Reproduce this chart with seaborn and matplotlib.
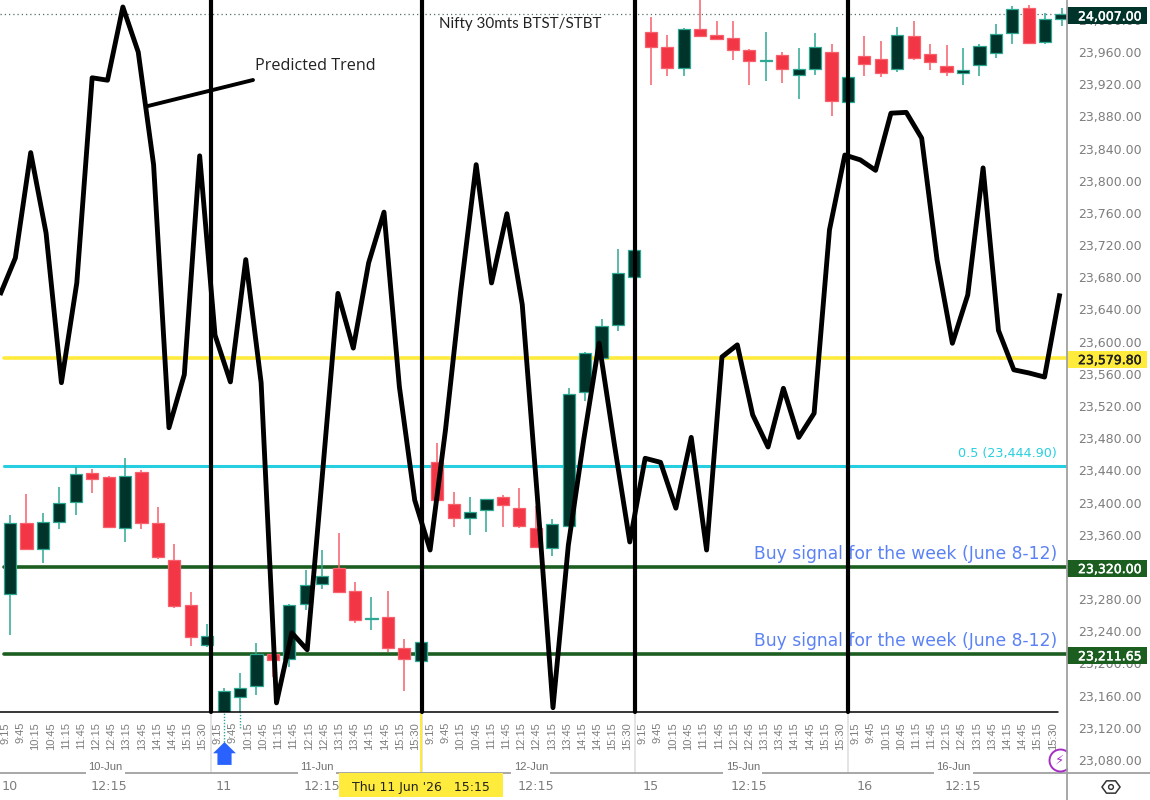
import matplotlib
matplotlib.use("Agg")
import matplotlib.pyplot as plt
import matplotlib.patheffects as pe
import matplotlib.transforms as mtrans
from matplotlib.patches import Rectangle
from matplotlib.path import Path
from matplotlib.lines import Line2D
import numpy as np
import pandas as pd
import seaborn as sns

# 30-minute Nifty candles, 10-Jun to 16-Jun
opens = [23286, 23375, 23342, 23376, 23401, 23437, 23432, 23368, 23438, 23375, 23329, 23273, 23223,
         23137, 23158, 23172, 23212, 23206, 23274, 23299, 23319, 23290, 23255, 23258, 23219, 23203,
         23450, 23398, 23381, 23391, 23407, 23393, 23368, 23344, 23371, 23537, 23580, 23621, 23680,
         23985, 23966, 23940, 23989, 23981, 23977, 23963, 23949, 23956, 23931, 23939, 23960, 23898,
         23955, 23951, 23939, 23980, 23958, 23943, 23934, 23944, 23959, 23984, 24015, 23972, 24001]
highs = [23385, 23411, 23387, 23419, 23444, 23442, 23433, 23455, 23440, 23394, 23348, 23289, 23249,
         23169, 23188, 23225, 23214, 23274, 23316, 23341, 23362, 23301, 23283, 23290, 23230, 23228,
         23474, 23413, 23407, 23405, 23409, 23418, 23396, 23380, 23542, 23587, 23628, 23715, 23715,
         24004, 23981, 23990, 24031, 23999, 23999, 23964, 23985, 23960, 23965, 23984, 23970, 23930,
         23980, 23974, 23991, 23999, 23970, 23969, 23965, 23970, 23995, 24017, 24018, 24009, 24015]
lows = [23235, 23341, 23325, 23367, 23385, 23412, 23369, 23351, 23367, 23330, 23269, 23222, 23220,
        23102, 23120, 23161, 23183, 23196, 23266, 23293, 23288, 23250, 23242, 23214, 23166, 23202,
        23402, 23370, 23360, 23363, 23370, 23368, 23344, 23334, 23370, 23526, 23577, 23613, 23679,
        23919, 23930, 23930, 23979, 23975, 23950, 23919, 23924, 23922, 23902, 23931, 23880, 23897,
        23930, 23929, 23935, 23950, 23938, 23930, 23919, 23930, 23953, 23970, 23970, 23970, 23992]
closes = [23375, 23342, 23376, 23399, 23436, 23429, 23370, 23433, 23375, 23332, 23271, 23233, 23234,
          23166, 23169, 23212, 23204, 23273, 23298, 23309, 23289, 23254, 23257, 23219, 23206, 23227,
          23403, 23381, 23388, 23404, 23397, 23371, 23345, 23373, 23535, 23586, 23619, 23685, 23714,
          23966, 23940, 23989, 23980, 23976, 23963, 23949, 23950, 23939, 23939, 23966, 23899, 23929,
          23945, 23934, 23981, 23953, 23948, 23935, 23938, 23968, 23982, 24013, 23971, 24001, 24007]

# Hand-drawn forecast path, one value per time label
predicted_trend = [23658, 23704, 23835, 23735, 23549, 23673, 23928, 23925, 24016, 23960, 23820, 23493,
                   23559, 23831, 23608, 23550, 23702, 23549, 23151, 23238, 23217, 23437, 23660, 23592,
                   23698, 23761, 23544, 23403, 23341, 23490, 23664, 23820, 23673, 23759, 23646, 23403,
                   23145, 23347, 23478, 23598, 23472, 23351, 23455, 23450, 23393, 23481, 23341, 23581,
                   23596, 23509, 23469, 23542, 23481, 23511, 23739, 23832, 23826, 23813, 23884, 23885,
                   23853, 23702, 23598, 23658, 23816, 23614, 23565, 23561, 23556, 23660]

session_times = ["9:15", "9:45", "10:15", "10:45", "11:15", "11:45", "12:15", "12:45",
                 "13:15", "13:45", "14:15", "14:45", "15:15", "15:30"]
session_days = ["10-Jun", "11-Jun", "12-Jun", "15-Jun", "16-Jun"]
day_label_pos = [5.8, 18.7, 31.7, 44.6, 57.4]
major_pos = [0, 6, 13, 19, 32, 39, 45, 52, 58]
major_labels = ["10", "12:15", "11", "12:15", "12:15", "15", "12:15", "16", "12:15"]

price_ticks = list(range(23080, 24001, 40))
session_breaks = [12.23, 25.08, 38.04, 51.0]
crosshair_pos = 25.0
fib_level = 23444.90
yellow_level = 23579.80
buy_levels = [23320.00, 23211.65]
last_close = 24007.00
floor_price = 23140.0

UP_FILL, UP_EDGE = "#00332a", "#2fa893"
DOWN_FILL, DOWN_EDGE = "#f23645", "#f7606c"
TICK_GREY = "#7d7d7d"
AXIS_GREY = "#a0a0a0"
LEVEL_GREEN = "#1b5e20"
BLUE = "#5b82f5"
CYAN = "#26cfe0"
YELLOW = "#ffeb3b"

sns.set_theme(style="white")
plt.rcParams["font.family"] = ["DejaVu Sans"]

fig = plt.figure(figsize=(11.5, 8), dpi=100, facecolor="white")
ax = fig.add_axes([0, 27 / 800, 1067 / 1150, 773 / 800])
ax.set_xlim(-0.6086, 64.33)
ax.set_ylim(23063.8, 24024.7)
ax.set_axisbelow(False)
sns.despine(ax=ax, left=True, top=True, right=True, bottom=True)

# Screen-pixel transform for the chart furniture outside the plotting area
pixels = mtrans.Affine2D().scale(1 / 1150, -1 / 800).translate(0, 1) + fig.transFigure

# Horizontal reference levels run underneath the candles
level_start = 4 / 1067
ax.axhline(yellow_level, xmin=level_start, color=YELLOW, lw=2.6, zorder=1.1)
ax.axhline(fib_level, xmin=level_start, color=CYAN, lw=2.2, zorder=1.1)
for level in buy_levels:
    ax.axhline(level, xmin=level_start, color=LEVEL_GREEN, lw=2.6, zorder=1.1)
ax.axhline(last_close, color="#4f6f68", lw=0.9, ls=(0, (1, 2.4)), zorder=1.1)

# Candles
candles = pd.DataFrame({"open": opens, "high": highs, "low": lows, "close": closes})
candles["pos"] = candles.index
candles["up"] = candles["close"] >= candles["open"]
for is_up, group in candles.groupby("up"):
    fill, edge = (UP_FILL, UP_EDGE) if is_up else (DOWN_FILL, DOWN_EDGE)
    ax.vlines(group["pos"], group["low"], group["high"], color=edge, lw=1.1, zorder=1.5)
    ax.bar(group["pos"], (group["close"] - group["open"]).abs(),
           bottom=group[["open", "close"]].min(axis=1), width=0.74,
           color=fill, edgecolor=edge, linewidth=0.9, zorder=1.7)

# Time-scale strip under the candles
ax.axhspan(23063.8, floor_price, color="white", lw=0, zorder=2.2)
deep = candles[candles["low"] < floor_price]
ax.vlines(deep["pos"], deep["low"], floor_price, color=UP_EDGE, lw=1.0, ls=(0, (1, 1.2)), zorder=2.3)
ax.axhline(floor_price, xmax=1058 / 1067, color="black", lw=1.1, zorder=3)

slot_labels = [t for _ in session_days for t in session_times]
label_pos = [-0.30 + k * 0.924 for k in range(len(slot_labels))]
ax.set_xticks(major_pos, major_labels)
ax.set_xticks(label_pos, slot_labels, minor=True)
ax.tick_params(axis="x", which="major", length=0, pad=5, labelsize=9.2, labelcolor=TICK_GREY)
ax.tick_params(axis="x", which="minor", length=0, pad=-36.7, labelsize=8, labelcolor=TICK_GREY)
for lab in ax.get_xticklabels(minor=True):
    lab.set_rotation(90)
    lab.set_va("top")
    lab.set_family("Liberation Sans")

ax.yaxis.tick_right()
ax.set_yticks(price_ticks, [f"{p:,.2f}" for p in price_ticks])
ax.tick_params(axis="y", length=0, pad=8, labelsize=9, labelcolor=TICK_GREY)

# Session dividers in the time strip, baseline of the time scale and day captions
strip = mtrans.blended_transform_factory(ax.transData, pixels)
for pos in session_breaks:
    ax.add_line(Line2D([pos, pos], [712, 773], transform=strip, color="#dddddd", lw=1.1, zorder=2.4))
ax.add_line(Line2D([0, 1150], [773, 773], transform=pixels, color=AXIS_GREY, lw=1.3,
                   clip_on=False, zorder=3.5))
for pos, day in zip(day_label_pos, session_days):
    ax.text(pos, 767, day, transform=strip, ha="center", va="center", fontsize=8,
            family="Liberation Sans", color="#6f6f6f", zorder=4,
            bbox=dict(fc="white", ec="none", pad=1.6))

# Crosshair on the current bar
ax.add_line(Line2D([crosshair_pos, crosshair_pos], [0, 773], transform=strip, color=YELLOW, lw=1.4, zorder=2.6))

# Black session dividers and forecast path
ax.vlines(session_breaks, floor_price, 24024.7, color="black", lw=3.0, zorder=4.5, capstyle="round")

trend = pd.DataFrame({"pos": [-0.61 + k * 0.9349 for k in range(len(predicted_trend))],
                      "price": predicted_trend})
sns.lineplot(data=trend, x="pos", y="price", ax=ax, color="black", lw=3.5, sort=False,
             estimator=None, zorder=4.6, solid_joinstyle="round", solid_capstyle="butt")
ax.set_xlabel("")
ax.set_ylabel("")

# Pointer from the caption to the forecast path
ax.add_line(Line2D([148, 253], [106, 80], transform=pixels, color="black", lw=2.8,
                   solid_capstyle="round", zorder=4.7))
ax.text(255, 66, "Predicted Trend", transform=pixels, fontsize=11.6, family="Open Sans",
        color="#222222", ha="left", va="center", zorder=5)
ax.text(520.5, 24, "Nifty 30mts BTST/STBT", transform=pixels, fontsize=10.9, family="Lato",
        color="#222222", ha="center", va="center", zorder=5)

# Level captions
note_x = 63.73
ax.text(note_x, fib_level + 16, "0.5 (23,444.90)", color=CYAN, fontsize=9.2,
        ha="right", va="center", zorder=2.45)
for level in buy_levels:
    ax.text(note_x, level + 16, "Buy signal for the week (June 8-12)", color=BLUE, fontsize=12.3,
            ha="right", va="center", zorder=2.45)

# Price tags on the scale
tag_half = 10.5
tag_shift = -1.5
tag_x = ax.get_yaxis_transform()
for value, bg, fg in [(last_close, UP_FILL, "white"), (yellow_level, YELLOW, "#222222"),
                      (buy_levels[0], LEVEL_GREEN, "white"), (buy_levels[1], LEVEL_GREEN, "white")]:
    ax.add_patch(Rectangle((1.0, value + tag_shift - tag_half), 1147 / 1067 - 1, 2 * tag_half, transform=tag_x,
                           facecolor=bg, edgecolor="none", clip_on=False, zorder=5))
    txt = ax.text(1078 / 1067, value + tag_shift, f"{value:,.2f}", transform=tag_x, color=fg, fontsize=9,
                  ha="left", va="center_baseline", zorder=6, clip_on=False)
    txt.set_path_effects([pe.withStroke(linewidth=0.35, foreground=fg)])

# Highlighted date tag on the time scale
ax.add_patch(Rectangle((crosshair_pos - 5.0, 773), 10.0, 24, transform=strip, facecolor=YELLOW,
                       edgecolor="none", clip_on=False, zorder=5))
ax.text(crosshair_pos, 787, "Thu 11 Jun '26   15:15", transform=strip, color="#222222", fontsize=9,
        ha="center", va="center", zorder=6, clip_on=False)

# Buy arrow
arrow = Path([(0, 1), (1, 0.02), (0.62, 0.02), (0.62, -1), (-0.62, -1), (-0.62, 0.02), (-1, 0.02), (0, 1)], closed=True)
ax.scatter([13.03], [23089], marker=arrow, s=270, color="#2962ff", linewidths=0, zorder=4.8)

# Right-hand scale border
fig.add_artist(Line2D([1067, 1067], [0, 800], transform=pixels, color=AXIS_GREY, lw=1.3))

# Alert badge and chart settings icon
ax.scatter([63.9], [23080], s=250, facecolor="white", edgecolor="#a52fc4", linewidths=1.4, zorder=4.9)
ax.text(63.9, 23080, "\u26a1", color="#a52fc4", fontsize=9.5, ha="center", va="center", zorder=5)
hexagon = Path([(-1, 0), (-0.5, 0.68), (0.5, 0.68), (1, 0), (0.5, -0.68), (-0.5, -0.68), (-1, 0)], closed=True)
ax.scatter([1111], [787], transform=pixels, marker=hexagon, s=170, facecolor="none",
           edgecolor="#333333", linewidths=1.1, clip_on=False, zorder=6)
ax.scatter([1111], [787], transform=pixels, s=12, facecolor="none",
           edgecolor="#333333", linewidths=1.0, clip_on=False, zorder=6)

fig.savefig("out.png", dpi=100)
